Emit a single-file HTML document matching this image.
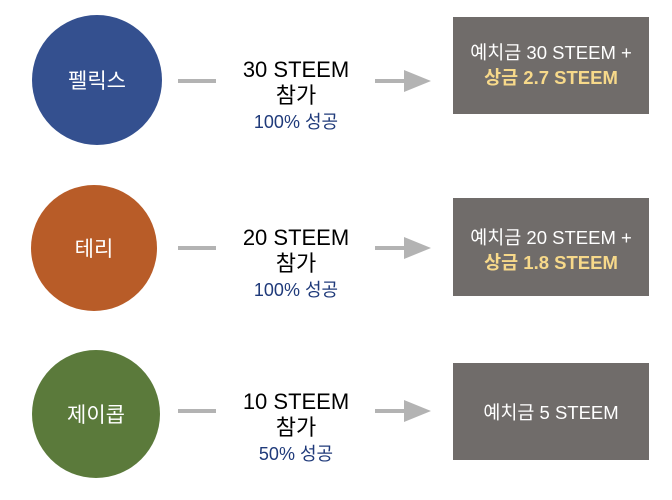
<!DOCTYPE html>
<html><head><meta charset="utf-8"><style>
body{margin:0;width:672px;height:500px;background:#fff;position:relative;overflow:hidden;font-family:"Liberation Sans","Noto Sans CJK KR",sans-serif}
.c{position:absolute;border-radius:50%;color:#fff;font-size:21px;display:flex;align-items:center;justify-content:center}
.t{position:absolute;left:206px;width:180px;text-align:center;font-size:22px;line-height:26px;color:#000}
.t .s{color:#1f3a7a;font-size:18px;line-height:26px}
.b{position:absolute;left:453px;width:196px;background:#706c6a;color:#fff;font-size:18.5px;line-height:25px;text-align:center;box-sizing:border-box;padding-top:22px;white-space:nowrap}
.b .y{color:#f7d98a;font-weight:bold}
.l{position:absolute;left:178px;width:38px;height:4px;background:#b3b3b3}
</style></head><body>
<div class="c" style="left:32px;top:15px;width:130px;height:130px;background:#34508f">펠릭스</div>
<div class="c" style="left:31px;top:185px;width:126px;height:126px;background:#b85c28">테리</div>
<div class="c" style="left:32px;top:350px;width:128px;height:128px;background:#5b7a3b">제이콥</div>
<div class="l" style="top:79px"></div>
<div class="l" style="top:246px"></div>
<div class="l" style="top:409px"></div>
<svg style="position:absolute;left:0;top:0" width="672" height="500">
<g fill="#b3b3b3"><rect x="375" y="79" width="32" height="4"/><polygon points="404,70 431,81 404,92"/>
<rect x="375" y="246" width="32" height="4"/><polygon points="404,237 431,248 404,259"/>
<rect x="375" y="409" width="32" height="4"/><polygon points="404,400 431,411 404,422"/></g></svg>
<div class="t" style="top:57px">30 STEEM<br>참가<div class="s">100% 성공</div></div>
<div class="t" style="top:225px">20 STEEM<br>참가<div class="s">100% 성공</div></div>
<div class="t" style="top:389px">10 STEEM<br>참가<div class="s">50% 성공</div></div>
<div class="b" style="top:17px;height:97px;padding-top:23px">예치금 30 STEEM +<br><span class="y">상금 2.7 STEEM</span></div>
<div class="b" style="top:198px;height:98px;padding-top:27px">예치금 20 STEEM +<br><span class="y">상금 1.8 STEEM</span></div>
<div class="b" style="top:363px;height:97px;padding-top:37px">예치금 5 STEEM</div>
</body></html>
